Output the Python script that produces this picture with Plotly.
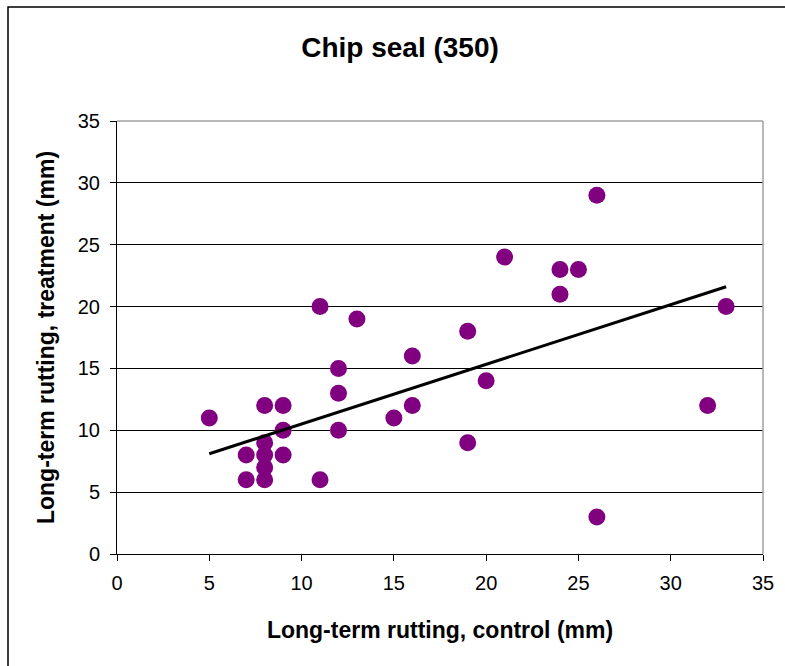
import plotly.graph_objects as go

control = [5, 7, 7, 8, 8, 8, 8, 8, 9, 9, 9, 11, 11, 12, 12, 12, 13, 15, 16, 16,
           19, 19, 20, 21, 24, 24, 25, 26, 26, 32, 33]
treatment = [11, 8, 6, 12, 9, 8, 7, 6, 12, 10, 8, 20, 6, 15, 13, 10, 19, 11, 16, 12,
             18, 9, 14, 24, 23, 21, 23, 29, 3, 12, 20]
trend_x = [5, 33]
trend_y = [8.1, 21.6]
tick_vals = [0, 5, 10, 15, 20, 25, 30, 35]

FONT = "Liberation Sans, Arial, sans-serif"

fig = go.Figure()
fig.add_trace(go.Scatter(
    x=control, y=treatment, mode="markers",
    marker=dict(color="#800080", size=17, line=dict(width=0)),
    showlegend=False, hoverinfo="x+y"))
fig.add_trace(go.Scatter(
    x=trend_x, y=trend_y, mode="lines", line=dict(color="black", width=3),
    showlegend=False, hoverinfo="skip"))

L, R, T, B = 117, 22, 121, 112
W, H = 785, 666
pw, ph = W - L - R, H - T - B

fig.update_layout(
    width=W, height=H,
    margin=dict(l=L, r=R, t=T, b=B, pad=0),
    paper_bgcolor="white", plot_bgcolor="white",
    font=dict(family=FONT, color="black", size=20),
    title=dict(text="<b>Chip seal (350)</b>", x=400 / W, xanchor="center",
               y=1 - 47 / H, yanchor="middle", yref="container",
               font=dict(size=28, family=FONT)),
    xaxis=dict(range=[0, 35], tickvals=tick_vals, ticks="outside", ticklen=6,
               tickcolor="black", showline=True, linecolor="black", linewidth=1,
               showgrid=False, zeroline=False, mirror=False,
               tickfont=dict(size=20), ticklabelstandoff=5,
               title=dict(text="<b>Long-term rutting, control (mm)</b>",
                          font=dict(size=23), standoff=28)),
    yaxis=dict(range=[0, 35], tickvals=tick_vals, ticks="outside", ticklen=6,
               tickcolor="black", showline=True, linecolor="black", linewidth=1,
               showgrid=True, gridcolor="black", gridwidth=1, zeroline=False,
               tickfont=dict(size=20), ticklabelstandoff=6,
               title=dict(text="<b>Long-term rutting, treatment (mm)</b>",
                          font=dict(size=23), standoff=16)),
    shapes=[
        dict(type="line", xref="paper", yref="paper", x0=0, x1=1, y0=1, y1=1,
             line=dict(color="#a0a0a0", width=1.5)),
        dict(type="line", xref="paper", yref="paper", x0=1, x1=1, y0=0, y1=1,
             line=dict(color="#a0a0a0", width=1.5)),
        dict(type="rect", xref="paper", yref="paper",
             x0=(8 - L) / pw, x1=(W + 10 - L) / pw,
             y0=-(H + 10 - (H - B)) / ph, y1=1 + (T - 7) / ph,
             line=dict(color="black", width=1.5), layer="below"),
    ],
)

fig.write_html("out.html")
